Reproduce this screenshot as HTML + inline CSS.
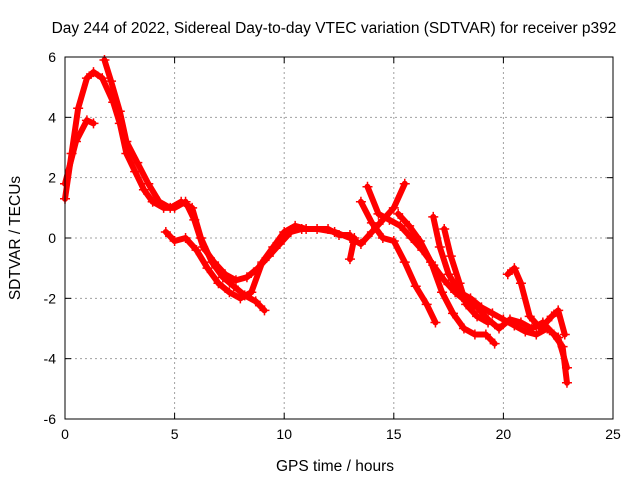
<!DOCTYPE html>
<html><head><meta charset="utf-8"><style>
body{margin:0;background:#fff}
svg{display:block;font-family:"Liberation Sans",sans-serif}
</style></head><body>
<svg id="chart" width="640" height="480" xmlns="http://www.w3.org/2000/svg">
<text x="334" y="33" text-anchor="middle" font-size="15.5">Day 244 of 2022, Sidereal Day-to-day VTEC variation (SDTVAR) for receiver p392</text>
<text x="335" y="471" text-anchor="middle" font-size="15.5">GPS time / hours</text>
<text transform="translate(20,238) rotate(-90)" text-anchor="middle" font-size="15.5">SDTVAR / TECUs</text>
<g id="grid"></g><g id="ticks"></g><g id="series"></g>
<rect x="65" y="57" width="548" height="362" fill="none" stroke="#000"/>
</svg>
<script>
const xTicks=[0,5,10,15,20,25];
const yTicks=[-6,-4,-2,0,2,4,6];
const track1X=[0,0.3,0.6,1.0,1.3,1.7,2.2,2.5,2.8,3.2,3.6,4.0,4.5,5.0,5.5,5.9,6.3,6.8,7.3,7.8,8.3,8.8,9.3,9.8,10.3,10.8,11.5,12.3,13,13.5,14,14.5,15,15.5];
const track1Y=[1.3,2.8,4.3,5.3,5.5,5.3,4.5,3.8,2.8,2.2,1.6,1.2,1.0,1.0,1.2,0.6,-0.3,-0.8,-1.2,-1.4,-1.3,-1.0,-0.6,-0.2,0.2,0.3,0.3,0.2,0.0,-0.2,0.2,0.6,1.0,1.8];
const track2X=[1.8,2.1,2.5,2.8,3.3,3.8,4.3,4.8,5.3,5.8,6.2,6.7,7.2,7.7,8.2,8.7,9.1];
const track2Y=[5.9,5.2,4.2,3.2,2.5,1.8,1.2,1.0,1.2,1.0,0.0,-0.8,-1.3,-1.6,-1.9,-2.1,-2.4];
const track3X=[0,0.5,1.0,1.3];
const track3Y=[1.8,3.2,3.9,3.8];
const track4X=[4.6,5.0,5.5,6.0,6.5,7.0,7.5,8.0,8.5,9.0,9.5,10.0,10.5,11,12,12.5,13];
const track4Y=[0.2,-0.1,0.0,-0.4,-1.0,-1.5,-1.8,-2.0,-1.8,-0.8,-0.3,0.2,0.4,0.3,0.3,0.1,0.1];
const track5X=[13.5,14,14.5,15,15.5,16,16.5,16.9];
const track5Y=[1.2,0.5,0.0,-0.1,-0.8,-1.6,-2.2,-2.8];
const track6X=[13.8,14.3,14.8,15.3,15.8,16.3,16.8,17.3,17.8,18.3,18.8,19.3,19.8,20.3,20.8,21.3,21.8,22.3,22.7,22.9];
const track6Y=[1.7,0.8,0.6,0.4,0.0,-0.4,-0.9,-1.4,-1.8,-2.1,-2.3,-2.7,-3.0,-2.7,-2.8,-3.0,-2.8,-3.2,-3.6,-4.8];
const track7X=[15.2,15.7,16.2,16.7,17.2,17.7,18.2,18.7,19.2,19.6];
const track7Y=[0.8,0.4,-0.1,-0.8,-1.8,-2.5,-3.0,-3.2,-3.2,-3.5];
const track8X=[16.8,17.1,17.5,18.0,18.5,19.0,19.5,20.0,20.5,21.0,21.5,22.0,22.5,22.9];
const track8Y=[0.7,-0.3,-1.2,-1.8,-2.0,-2.3,-2.5,-2.7,-2.9,-3.1,-3.2,-3.0,-3.3,-4.3];
const track9X=[17.3,17.6,18,18.3,18.8,19.3];
const track9Y=[0.3,-0.6,-1.5,-2.2,-2.6,-2.8];
const track10X=[20.2,20.5,20.8,21.2,21.7,22.2,22.5,22.8];
const track10Y=[-1.2,-1.0,-1.5,-2.6,-3.0,-2.6,-2.4,-3.2];
const track11X=[13.0,13.2];
const track11Y=[-0.7,0.0];
const tracks=[[track1X,track1Y],[track2X,track2Y],[track3X,track3Y],[track4X,track4Y],[track5X,track5Y],[track6X,track6Y],[track7X,track7Y],[track8X,track8Y],[track9X,track9Y],[track10X,track10Y],[track11X,track11Y]];
const NS="http://www.w3.org/2000/svg";
const L=65,R=613,T=57,B=419;
function sx(v){return L+(v-0)/25*(R-L);}
function sy(v){return B-(v+6)/12*(B-T);}
function mk(tag,attrs,parent){const e=document.createElementNS(NS,tag);for(const k in attrs)e.setAttribute(k,attrs[k]);parent.appendChild(e);return e;}
const grid=document.getElementById('grid'),ticks=document.getElementById('ticks'),ser=document.getElementById('series');
xTicks.forEach(v=>{
  const x=sx(v);
  if(v>0&&v<25){const g=mk('line',{x1:x,x2:x,y1:T,y2:B,stroke:'#a0a0a0','stroke-dasharray':'2,3'},grid);
  
  }
  mk('line',{x1:x,x2:x,y1:B,y2:B-6,stroke:'#000'},ticks);
  mk('line',{x1:x,x2:x,y1:T,y2:T+6,stroke:'#000'},ticks);
  const t=mk('text',{x:x,y:B+20,'text-anchor':'middle','font-size':14},ticks);t.textContent=v;
  
  
});
yTicks.forEach(v=>{
  const y=sy(v);
  if(v>-6&&v<6){const g=mk('line',{x1:L,x2:R,y1:y,y2:y,stroke:'#a0a0a0','stroke-dasharray':'2,3'},grid);
  
  }
  mk('line',{x1:L,x2:L+6,y1:y,y2:y,stroke:'#000'},ticks);
  mk('line',{x1:R,x2:R-6,y1:y,y2:y,stroke:'#000'},ticks);
  const t=mk('text',{x:L-9,y:y+5,'text-anchor':'end','font-size':14},ticks);t.textContent=v;
  
  
});
tracks.forEach((tr,i)=>{
  const xs=tr[0],ys=tr[1];
  const pts=xs.map((x,j)=>sx(x)+','+sy(ys[j])).join(' ');
  const p=mk('polyline',{points:pts,fill:'none',stroke:'#ff0000','stroke-width':6,'stroke-linejoin':'round','stroke-linecap':'round'},ser);
  
  
  xs.forEach((x,j)=>{
    const cx=sx(x),cy=sy(ys[j]);
    const m=mk('path',{d:`M${cx-5},${cy}H${cx+5}M${cx},${cy-5}V${cy+5}`,stroke:'#ff0000','stroke-width':1.5},ser);
    
    
  });
});
</script>
</body></html>
